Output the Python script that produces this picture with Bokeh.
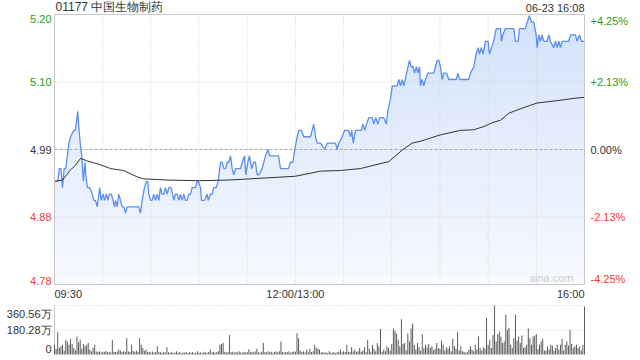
import numpy as np
from bokeh.plotting import figure
from bokeh.models import Range1d, Label
from bokeh.embed import file_html
from bokeh.resources import INLINE

# ---------------- data ----------------
code_name = "01177 中国生物制药"
stamp = "06-23 16:08"
prev_close = 4.99
time_labels = ["09:30", "12:00/13:00", "16:00"]
time_label_minutes = [0, 150, 330]          # minutes since 09:30 (lunch skipped)
session_minutes = 330
grid_minutes = [30, 60, 90, 120, 150, 180, 210, 240, 270, 300]
pct_levels = [4.25, 2.125, 0.0, -2.125, -4.25]
price_labels = ["5.20", "5.10", "4.99", "4.88", "4.78"]
pct_labels = ["+4.25%", "+2.13%", "0.00%", "-2.13%", "-4.25%"]

price_t = [0, 2, 3, 4, 5, 6, 7, 8, 9, 10, 12, 13, 14.5, 15, 16, 17, 18, 19, 19.5, 20.5,
           22, 23.5, 24.5, 25.5, 26.6, 27.6, 28.2, 29, 30.3, 31.1, 32.4, 33.2, 34.2, 35.3, 36.5,
           37.3, 38, 39, 40, 41.1, 42.1, 43.2, 44.2, 45.2, 47, 49, 52.5, 53.5, 54.6, 56, 57.3,
           58.1, 58.7, 59.8, 60.8, 61.8, 62.9, 63.9, 65, 66, 67, 68.1, 69.1, 70.1, 71.2, 72.6,
           74.3, 75.3, 76.4, 77.4, 78.4, 79.5, 80.5, 81.5, 82.6, 83.6, 84.7, 85.7, 86.7, 87.8,
           88.8, 89.5, 90.9, 91.5, 93.4, 95, 95.7, 97.1, 98.2, 99.2, 100.7, 101.9, 103.4, 104.4,
           105.4, 106.5, 107.5, 108.5, 109.6, 110.6, 111.6, 112.7, 115.8, 116.9, 118.3, 119.1,
           120.4, 121.4, 122.7, 124.1, 125.1, 126.2, 127.2, 129.3, 130.3, 131.4, 133, 133.9,
           139.5, 140.7, 145.7, 146.9, 148.4, 149.6, 151.1, 152.1, 153.8, 155.2, 159.4, 160.4,
           161.4, 162.5, 163.6, 165.6, 168.3, 169.8, 175, 176, 177, 179.1, 180.6, 183, 184.3,
           185.1, 186, 187.4, 191, 192, 193.2, 194.3, 195.7, 197.8, 198.8, 200, 201.3, 202.5,
           205, 206.7, 207.5, 209.2, 210.3, 213.4, 214.4, 215.4, 216.5, 217.5, 219.2, 221,
           222.1, 223.3, 224.1, 225.4, 226.2, 227.3, 227.9, 228.9, 229.9, 231, 232.4, 236.2,
           237.2, 238.3, 239.3, 240.3, 241.4, 242.4, 244.1, 245.5, 250.3, 251.1, 252.3, 257.9,
           259, 261.1, 262.5, 263.8, 264.6, 265.8, 266.9, 268.3, 270, 270.8, 272.1, 273.5, 275,
           277.7, 278.3, 279.1, 280.8, 286, 287, 288.7, 289.5, 293.2, 294.3, 295.7, 297, 298.4,
           299.9, 300.5, 301.5, 302.6, 303.6, 304.6, 306.7, 307.8, 308.8, 310.9, 311.9, 313,
           314, 315, 316.1, 320.2, 321.3, 324.4, 325.4, 326.9, 328.1, 330]
price_v = [4.94, 4.94, 4.96, 4.96, 4.93, 4.96, 4.96, 4.98, 5.00, 5.01, 5.02, 5.02, 5.05, 5.03, 5.00, 4.98, 4.94, 4.97, 4.95, 4.93,
           4.93, 4.92, 4.91, 4.91, 4.90, 4.92, 4.93, 4.91, 4.92, 4.91, 4.92, 4.91, 4.92, 4.92, 4.91,
           4.90, 4.91, 4.90, 4.92, 4.91, 4.90, 4.90, 4.89, 4.90, 4.90, 4.90, 4.90, 4.89, 4.91, 4.93, 4.94,
           4.94, 4.92, 4.91, 4.91, 4.92, 4.91, 4.92, 4.91, 4.93, 4.92, 4.92, 4.93, 4.92, 4.93, 4.93,
           4.91, 4.92, 4.92, 4.91, 4.92, 4.91, 4.92, 4.91, 4.91, 4.92, 4.92, 4.93, 4.93, 4.93,
           4.94, 4.94, 4.93, 4.91, 4.91, 4.92, 4.91, 4.92, 4.92, 4.93, 4.93, 4.94, 4.97, 4.97,
           4.96, 4.96, 4.97, 4.97, 4.98, 4.96, 4.95, 4.96, 4.96, 4.97, 4.98, 4.95,
           4.97, 4.98, 4.96, 4.97, 4.97, 4.95, 4.95, 4.96, 4.97, 4.98, 4.99, 4.98,
           4.98, 4.96, 4.96, 4.97, 4.97, 4.99, 5.01, 5.02, 5.02, 5.01, 5.01, 5.02,
           5.03, 5.01, 5.00, 5.00, 4.99, 5.00, 5.00, 4.99, 5.00, 5.01, 5.02, 5.02, 5.01,
           5.02, 5.00, 5.02, 5.02, 5.03, 5.02, 5.03, 5.04, 5.04, 5.03, 5.04, 5.03, 5.04,
           5.04, 5.03, 5.05, 5.07, 5.09, 5.09, 5.10, 5.09, 5.10, 5.09, 5.11, 5.13,
           5.12, 5.12, 5.11, 5.12, 5.11, 5.12, 5.09, 5.10, 5.09, 5.10, 5.11, 5.11,
           5.12, 5.13, 5.13, 5.12, 5.10, 5.11, 5.11, 5.10, 5.10, 5.11, 5.10, 5.10,
           5.11, 5.12, 5.14, 5.15, 5.14, 5.15, 5.14, 5.16, 5.16, 5.14, 5.15, 5.16, 5.18,
           5.18, 5.16, 5.17, 5.18, 5.18, 5.16, 5.16, 5.18, 5.18, 5.19, 5.20, 5.19, 5.19,
           5.17, 5.15, 5.17, 5.16, 5.17, 5.16, 5.16, 5.17, 5.16, 5.15, 5.16, 5.15,
           5.16, 5.15, 5.16, 5.16, 5.17, 5.17, 5.16, 5.17, 5.16, 5.16]

avg_t = [0, 5, 7.5, 10, 13, 16.2, 20.4, 28.6, 34.9, 43, 51.5, 55.4, 70.2, 90.3, 108.3, 129.3,
         150, 165.6, 178, 190.5, 196.7, 208.1, 216.5, 222.7, 227.9, 240.3, 252.8, 260.9, 267.3,
         272.5, 277.7, 282.9, 291.2, 300.5, 314, 322.3, 330]
avg_v = [4.940, 4.942, 4.950, 4.958, 4.965, 4.976, 4.972, 4.966, 4.960, 4.957, 4.947, 4.944,
         4.942, 4.941, 4.942, 4.945, 4.948, 4.956, 4.957, 4.960, 4.964, 4.971, 4.989, 5.000,
         5.003, 5.013, 5.020, 5.021, 5.026, 5.032, 5.036, 5.047, 5.055, 5.063, 5.067, 5.070, 5.072]

vol_max = 360.56   # 万
vol_labels = ["360.56万", "180.28万", "0"]
volume = [72, 40, 163, 48, 60, 72, 30, 108, 96, 72,
          115, 77, 48, 30, 132, 91, 108, 43, 77, 60,
          72, 84, 36, 24, 48, 72, 24, 18, 22, 15,
          20, 18, 25, 16, 20, 14, 108, 20, 18, 22,
          36, 30, 16, 24, 20, 120, 22, 18, 72, 25,
          20, 30, 18, 120, 72, 48, 25, 36, 18, 20,
          15, 22, 14, 18, 60, 20, 16, 12, 18, 14,
          53, 16, 12, 20, 10, 14, 24, 12, 18, 10,
          14, 12, 20, 10, 16, 12, 18, 10, 14, 24,
          12, 16, 10, 20, 14, 12, 18, 36, 14, 20,
          12, 16, 24, 72, 77, 84, 20, 14, 18, 144,
          16, 20, 12, 18, 14, 24, 16, 12, 20, 14,
          18, 36, 16, 20, 14, 22, 43, 16, 12, 20,
          84, 18, 14, 24, 16, 20, 12, 18, 22, 16,
          24, 96, 18, 14, 20, 16, 24, 12, 18, 22,
          20, 156, 120, 30, 18, 24, 14, 36, 20, 43,
          18, 24, 72, 48, 43, 36, 14, 18, 12, 16,
          10, 24, 14, 12, 18, 10, 16, 20, 36, 14,
          24, 18, 72, 20, 16, 53, 22, 36, 18, 24,
          48, 20, 30, 53, 16, 108, 43, 20, 72, 43,
          24, 84, 60, 187, 20, 36, 24, 60, 48, 30,
          77, 192, 173, 154, 108, 60, 260, 77, 84, 30,
          156, 96, 192, 228, 72, 36, 84, 53, 30, 149,
          48, 72, 53, 77, 48, 60, 30, 43, 84, 48,
          43, 103, 72, 30, 53, 43, 60, 24, 115, 60,
          43, 168, 30, 60, 24, 20, 12, 18, 36, 60,
          36, 24, 72, 36, 132, 48, 30, 53, 43, 269,
          72, 108, 48, 144, 360.56, 96, 149, 168, 132, 84,
          96, 293, 180, 197, 72, 48, 120, 293, 101, 132,
          84, 139, 48, 53, 72, 192, 120, 72, 132, 139,
          149, 40, 72, 96, 115, 29, 29, 60, 36, 72,
          67, 30, 48, 72, 36, 72, 115, 30, 72, 96,
          67, 180, 77, 48, 60, 72, 48, 60, 30, 72,
          353]
vol_t = list(range(len(volume)))

# ---------------- layout constants (pixels) ----------------
W, H = 640, 360
PL, PW = 54, 530            # plot area left / width
PT, PH = 14, 270            # price panel top / height
VT, VH = 305, 49            # volume panel top / height

FONT = "Liberation Sans"
GREEN = "#22a022"
RED = "#f03c30"
DARK = "#333333"
GRID = "#cfcfcf"
BORDER = "#c8c8c8"
label_colors = [GREEN, GREEN, DARK, RED, RED]
baselines = ["top", "middle", "middle", "middle", "bottom"]

levels = [prev_close * (1 + p / 100.0) for p in pct_levels]
hi, lo = levels[0], levels[-1]
span = hi - lo

# scales: the frame covers the whole canvas; chart areas sit inside it
x0 = -PL * session_minutes / PW
x1 = (W - PL) * session_minutes / PW
y_top = hi + PT / PH * span
y_bot = hi - (H - PT) / PH * span
v_bot = -(H - VT - VH) / VH * vol_max
v_top = (VT + VH) / VH * vol_max

p = figure(width=W, height=H, x_range=Range1d(x0, x1), y_range=Range1d(y_bot, y_top),
           output_backend="svg", toolbar_location=None,
           min_border_left=0, min_border_right=0, min_border_top=0, min_border_bottom=0)
p.extra_y_ranges = {"vol": Range1d(v_bot, v_top)}
p.axis.visible = False
p.grid.visible = False
p.outline_line_color = None
p.background_fill_color = "white"
p.border_fill_color = "white"

# area under price with a vertical gradient (white veil increasing toward bottom)
p.varea(x=price_t, y1=price_v, y2=lo, fill_color="#d3e2fa")
edges = np.linspace(lo, hi, 28)
mids = (edges[:-1] + edges[1:]) / 2
alphas = 0.82 * (1 - (mids - lo) / span)
p.quad(left=0, right=session_minutes, bottom=edges[:-1], top=edges[1:], fill_color="white",
       fill_alpha=alphas, line_alpha=0)

# grid
p.segment(x0=grid_minutes, y0=lo, x1=grid_minutes, y1=hi, line_color=GRID, line_dash="1 2")
p.segment(x0=0, y0=[levels[1], levels[3]], x1=session_minutes, y1=[levels[1], levels[3]],
          line_color=GRID, line_dash="1 2")
p.segment(x0=0, y0=prev_close, x1=session_minutes, y1=prev_close, line_color="#a8a8a8",
          line_dash="3 2")

p.line(price_t, price_v, line_color="#5b8ef0", line_width=1.3)
p.line(avg_t, avg_v, line_color="#333333", line_width=1.0)

# price panel box
p.quad(left=0, right=session_minutes, bottom=lo, top=hi, fill_alpha=0, line_color=BORDER)

for lv, txt, col, bl in zip(levels, price_labels, label_colors, baselines):
    p.add_layout(Label(x=0, y=lv, text=txt, x_offset=-3, text_align="right", text_baseline=bl,
                       text_color=col, text_font=FONT, text_font_size="11px"))
for lv, txt, col, bl in zip(levels, pct_labels, label_colors, baselines):
    p.add_layout(Label(x=session_minutes, y=lv, text=txt, x_offset=6, text_align="left",
                       text_baseline=bl, text_color=col, text_font=FONT, text_font_size="11px"))

p.add_layout(Label(x=0, y=hi, text=code_name, x_offset=1, y_offset=1, text_align="left",
                   text_baseline="bottom", text_color=DARK, text_font=FONT, text_font_size="12px"))
p.add_layout(Label(x=session_minutes, y=hi, text=stamp, y_offset=1, text_align="right",
                   text_baseline="bottom", text_color=DARK, text_font=FONT, text_font_size="11px"))
p.add_layout(Label(x=session_minutes, y=lo, text="sina.com", x_offset=-11, y_offset=1,
                   text_align="right", text_baseline="bottom", text_color="#cccccc",
                   text_font=FONT, text_font_size="11px"))
for m, txt, al in zip(time_label_minutes, time_labels, ["left", "center", "right"]):
    p.add_layout(Label(x=m, y=lo, text=txt, y_offset=-3, text_align=al, text_baseline="top",
                       text_color=DARK, text_font=FONT, text_font_size="11px"))

# ---------------- volume panel ----------------
p.segment(x0=0, y0=[vol_max / 2, vol_max], x1=session_minutes, y1=[vol_max / 2, vol_max],
          line_color=GRID, line_dash="1 2", y_range_name="vol")
p.segment(x0=0, y0=0, x1=0, y1=vol_max, line_color=BORDER, y_range_name="vol")
p.vbar(x=vol_t, top=volume, bottom=0, width=0.6, fill_color="#555555", line_color=None,
       y_range_name="vol")
for v, txt, bl, dy in zip([vol_max, vol_max / 2, 0], vol_labels, ["top", "middle", "bottom"], [-2, 0, 2]):
    p.add_layout(Label(x=0, y=v, text=txt, x_offset=-3, y_offset=dy,
                       text_align="right", text_baseline=bl, text_color=DARK,
                       text_font=FONT, text_font_size="11px", y_range_name="vol"))

open("out.html", "w").write(file_html(p, INLINE))
